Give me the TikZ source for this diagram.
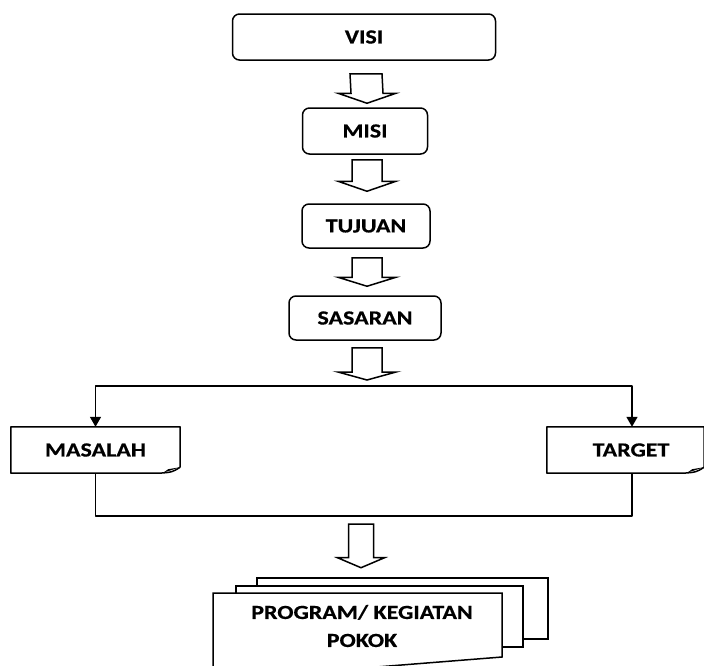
\documentclass[tikz,border=0pt]{standalone}
\usepackage{fontspec}
\setmainfont{Carlito}[FakeStretch=1.2,BoldFeatures={FakeBold=0.6}]
\usetikzlibrary{arrows.meta,calc}
% hollow block arrow: top point, tip point, head length, shaft half width, head half width
\newcommand\blockarrow[5]{\draw[blockarr] ($(#1)+(-#4,0)$) -- ($(#1)+(#4,0)$) -- ($(#2)+(#4,-#3)$) -- ($(#2)+(#5,-#3)$) -- (#2) -- ($(#2)+(-#5,-#3)$) -- ($(#2)+(-#4,-#3)$) -- cycle;}
% box with curled corner at the bottom right
\newcommand\notebox[1]{\draw[link] ([yshift=6pt]#1.south east) -- (#1.north east) -- (#1.north west) -- (#1.south west) -- ([xshift=-21pt]#1.south east) .. controls ([xshift=-8pt,yshift=1pt]#1.south east) .. ([yshift=6pt]#1.south east);
  \fill ([yshift=6pt]#1.south east) -- ([xshift=-12pt,yshift=4pt]#1.south east) -- ([xshift=-17pt,yshift=0.5pt]#1.south east) -- cycle;}
\begin{document}
\begin{tikzpicture}[x=1pt,y=-1pt,>={Triangle[length=10pt,width=11pt]},line join=round,
  font=\bfseries\fontsize{20}{28}\selectfont,
  box/.style={draw,line width=1.5pt,rounded corners=7pt,inner sep=0pt,align=center},
  note/.style={inner sep=0pt,minimum height=46pt},
  blockarr/.style={draw,line width=1.5pt,fill=white,line join=miter},
  link/.style={line width=1.5pt},
  doc/.style={draw,line width=1.5pt,fill=white,line join=miter}]
\useasboundingbox (0,0) rectangle (704,665);
\clip (0,0) rectangle (704,665);
% chain of goals
\node[box,minimum width=263pt,minimum height=46pt] (visi) at (364,37) {VISI};
\node[box,minimum width=125pt,minimum height=46pt] (misi) at (365,131) {MISI};
\node[box,minimum width=128pt,minimum height=44pt] (tujuan) at (366,226) {TUJUAN};
\node[box,minimum width=152pt,minimum height=44pt] (sasaran) at (365,318) {SASARAN};
\blockarrow{$(visi.south)+(2,13)$}{$(misi.north)+(2,-4)$}{10}{16}{29}
\blockarrow{$(misi.south)+(2,5)$}{$(tujuan.north)+(1,-12)$}{10}{15}{29}
\blockarrow{$(tujuan.south)+(1,9)$}{$(sasaran.north)+(2,-9)$}{9}{15}{29}
% branches
\node[note,minimum width=169pt] (masalah) at (95.5,450) {MASALAH};
\node[note,minimum width=157pt] (target) at (625.5,450) {\hspace*{11pt}TARGET};
\notebox{masalah}
\notebox{target}
\coordinate (split) at (364,386);
\coordinate (tgt) at (632,386);
\coordinate (low) at (364,516);
\blockarrow{$(sasaran.south)+(2,7)$}{$(split)+(3,-6)$}{8}{15}{29}
\draw[link,->] (split) -| (masalah.north);
\draw[link,->] (split) -| (tgt |- target.north);
\draw[link] (masalah.south) |- (low) -| (tgt |- target.south);
% stacked documents
\draw[doc] (257,639) -- (257,578) -- (548,578) -- (548,639) -- cycle;
\draw[doc] (236,647) -- (236,586) -- (523,586) -- (523,647) -- cycle;
\draw[doc] (213,680) -- (213,593) -- (502,593) -- (502,657) -- cycle;
\node[align=center,inner sep=0pt] (program) at (362,626) {PROGRAM/ KEGIATAN\\POKOK};
\blockarrow{$(low)+(-3,8)$}{$(program.north)+(-1,-37)$}{10}{12.5}{23.5}
\end{tikzpicture}
\end{document}
